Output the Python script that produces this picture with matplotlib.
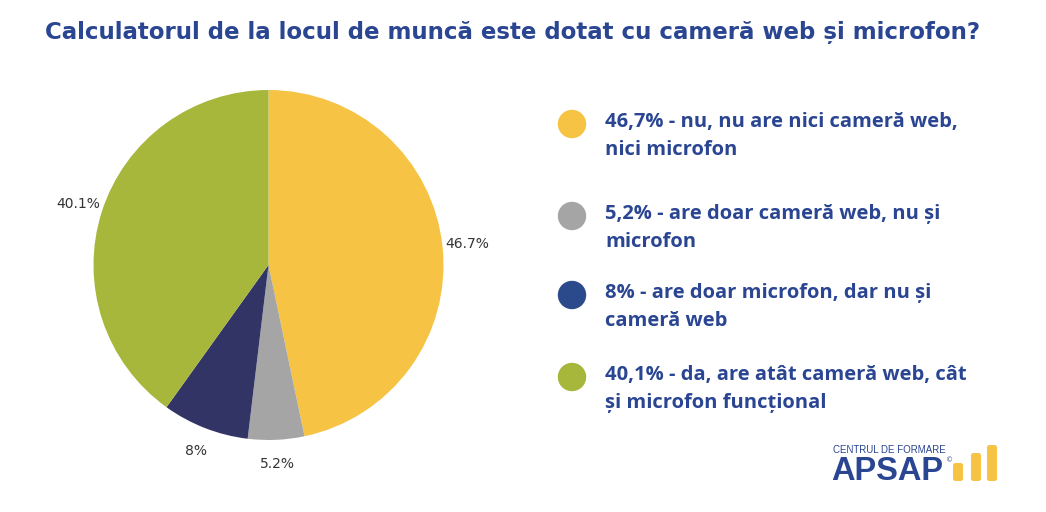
import matplotlib
matplotlib.use("Agg")
import matplotlib.pyplot as plt
from matplotlib.patches import Circle, FancyBboxPatch
from matplotlib import font_manager

# Survey answers (percent)
VALUES = [46.7, 5.2, 8.0, 40.1]
PIE_LABELS = ["46.7%", "5.2%", "8%", "40.1%"]
LEGEND = [
    "46,7% - nu, nu are nici cameră web,\nnici microfon",
    "5,2% - are doar cameră web, nu și\nmicrofon",
    "8% - are doar microfon, dar nu și\ncameră web",
    "40,1% - da, are atât cameră web, cât\nși microfon funcțional",
]
TITLE = "Calculatorul de la locul de muncă este dotat cu cameră web și microfon?"

PIE_COLORS = ["#f6c344", "#a5a5a5", "#323466", "#a6b73c"]
DOT_COLORS = ["#f6c344", "#a5a5a5", "#2b4a8c", "#a6b73c"]
BLUE = "#2a4592"

names = {f.name for f in font_manager.fontManager.ttflist}
title_family = "Liberation Sans Narrow" if "Liberation Sans Narrow" in names else "DejaVu Sans"
title_size = 21 if title_family == "Liberation Sans Narrow" else 16.5

W, H = 1046, 512
fig = plt.figure(figsize=(W / 100, H / 100), dpi=100)
fig.patch.set_facecolor("white")

# Title
fig.text(45 / W, 1 - 32 / H, TITLE, fontsize=title_size, fontweight="bold",
         family=title_family, color=BLUE, va="center", ha="left")

# Pie: centre (268, 265), radius 175 px
cx, cy, r = 268.5, 265, 175
ax = fig.add_axes([(cx - r) / W, (H - cy - r) / H, 2 * r / W, 2 * r / H])
wedges, texts = ax.pie(VALUES, colors=PIE_COLORS, labels=PIE_LABELS,
                       startangle=90, counterclock=False, labeldistance=1.14,
                       radius=1, textprops=dict(fontsize=10, color="#333333"))
for t in texts:
    t.set_ha("center"); t.set_va("center")
ax.set_xlim(-1, 1); ax.set_ylim(-1, 1)
ax.set_aspect("equal")

# Legend
lax = fig.add_axes([0, 0, 1, 1]); lax.axis("off")
lax.set_xlim(0, W); lax.set_ylim(H, 0)
rows = [124, 216, 295, 377]
for y, txt, col in zip(rows, LEGEND, DOT_COLORS):
    lax.add_patch(Circle((572, y), 13.5, color=col))
    lax.text(605, y - 12, txt, fontsize=14.5, fontweight="bold",
             family="Open Sans", color=BLUE, va="top", ha="left",
             linespacing=1.55)

# Logo
lax.text(833, 450, "CENTRUL DE FORMARE", fontsize=7, color=BLUE,
         family="Liberation Sans", va="center", ha="left")
lax.text(831, 472, "APSAP", fontsize=23.5, fontweight="bold", color=BLUE,
         family="Liberation Sans", va="center", ha="left")
lax.text(946, 460, "©", fontsize=5, color=BLUE, va="center", ha="left")
for x0, top in [(953, 463), (971, 453), (987, 445)]:
    lax.add_patch(FancyBboxPatch((x0, top), 10, 481 - top,
                                 boxstyle="round,pad=0,rounding_size=2.5",
                                 color="#f6c344", lw=0))

fig.savefig("out.png", dpi=100, facecolor="white")
